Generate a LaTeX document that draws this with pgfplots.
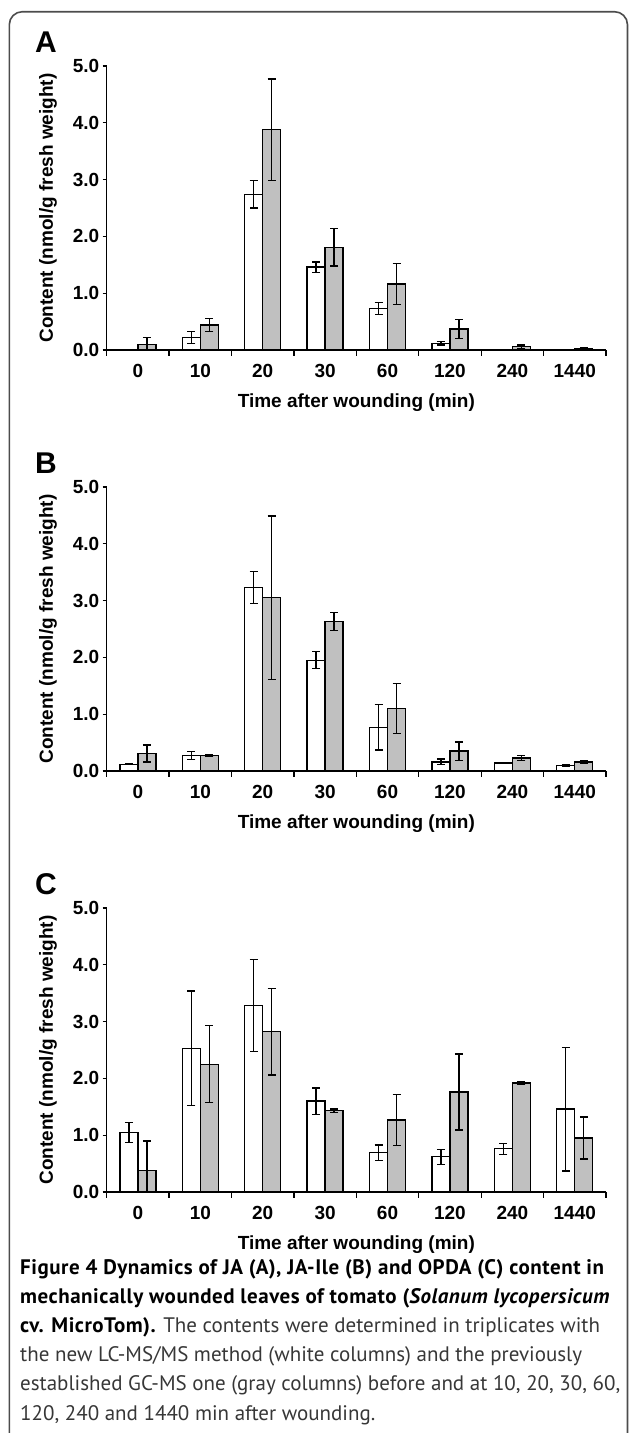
\documentclass[border=0pt]{standalone}
\usepackage{fontspec}
\setmainfont{Liberation Sans}
\newfontfamily\capfont{PT Sans}[BoldFeatures={LetterSpace=2.5}, BoldItalicFeatures={LetterSpace=2.5}]
\usepackage{pgfplots}
\pgfplotsset{compat=1.18}
\definecolor{barGray}{RGB}{192,192,192}
\definecolor{capText}{RGB}{55,55,55}

\pgfplotsset{
  woundaxis/.style={
    scale only axis, width=499.3pt, height=284pt,
    anchor=south west,
    xmin=-0.5, xmax=7.5, ymin=0, ymax=5,
    axis x line*=bottom, axis y line*=left,
    axis line style={-, line width=1.3pt, black},
    ybar=0pt, bar width=18pt,
    xtick={0,...,7}, xticklabels={0,10,20,30,60,120,240,1440},
    minor xtick={-0.5,0.5,...,7.5},
    major x tick style={draw=none},
    ytick={0,...,5},
    tick align=outside,
    major tick length=4pt, minor tick length=5.7pt,
    tick style={line width=1.3pt, black},
    /pgf/number format/assume math mode=true,
    yticklabel style={/pgf/number format/.cd, fixed, fixed zerofill, precision=1},
    xticklabel style={yshift=-7pt},
    ticklabel style={font=\fontsize{19}{22}\selectfont\bfseries},
    every axis y label/.style={at={(axis description cs:-0.1176,0.5)}, rotate=90, anchor=center,
      font=\fontsize{19}{22}\selectfont\bfseries},
    every axis x label/.style={at={(axis description cs:0.5,-0.185)}, anchor=center,
      font=\fontsize{19}{22}\selectfont\bfseries},
    xlabel={Time after wounding (min)},
    ylabel={Content (nmol/g fresh weight)},
    every axis plot/.append style={draw=black, line width=1.3pt},
    error bars/y dir=both, error bars/y explicit,
    error bars/error bar style={line width=1.3pt, black},
    error bars/error mark options={rotate=90, mark size=4pt, line width=1.3pt, black},
  }
}

\begin{document}
\begin{tikzpicture}[x=1pt, y=1pt]
  \useasboundingbox (0,0) rectangle (629,-1433);
  \clip (0,0) rectangle (629,-1433);
  \draw[rounded corners=13pt, line width=1.6pt, black!70] (9.3,-11.7) rectangle (627.5,-1470);

  % A: JA
  \node[font=\fontsize{30}{32}\selectfont\bfseries] at (46,-42) {A};
  \begin{axis}[woundaxis, at={(106.7pt,-350pt)}]
    \addplot[fill=white] coordinates {
      (1,0.22) +- (0,0.10) (2,2.74) +- (0,0.24) (3,1.46) +- (0,0.09)
      (4,0.73) +- (0,0.11) (5,0.12) +- (0,0.03)};
    \addplot[fill=barGray] coordinates {
      (0,0.10) += (0,0.12) -= (0,0.10) (1,0.44) +- (0,0.12) (2,3.88) +- (0,0.89)
      (3,1.81) +- (0,0.33) (4,1.16) +- (0,0.36) (5,0.37) +- (0,0.17)
      (6,0.06) +- (0,0.03) (7,0.03) +- (0,0.02)};
  \end{axis}

  % B: JA-Ile
  \node[font=\fontsize{30}{32}\selectfont\bfseries] at (46,-463) {B};
  \begin{axis}[woundaxis, at={(106.7pt,-771pt)}]
    \addplot[fill=white] coordinates {
      (0,0.12) +- (0,0.01) (1,0.27) +- (0,0.07) (2,3.23) +- (0,0.28)
      (3,1.95) +- (0,0.15) (4,0.77) +- (0,0.40) (5,0.16) +- (0,0.05)
      (6,0.14) +- (0,0.01) (7,0.10) +- (0,0.02)};
    \addplot[fill=barGray] coordinates {
      (0,0.31) +- (0,0.15) (1,0.27) +- (0,0.02) (2,3.05) +- (0,1.44)
      (3,2.63) +- (0,0.16) (4,1.10) +- (0,0.44) (5,0.35) +- (0,0.16)
      (6,0.23) +- (0,0.04) (7,0.16) +- (0,0.02)};
  \end{axis}

  % C: OPDA
  \node[font=\fontsize{30}{32}\selectfont\bfseries] at (46,-884) {C};
  \begin{axis}[woundaxis, at={(106.7pt,-1192pt)}]
    \addplot[fill=white] coordinates {
      (0,1.05) +- (0,0.18) (1,2.53) +- (0,1.01) (2,3.28) +- (0,0.81)
      (3,1.60) +- (0,0.23) (4,0.69) +- (0,0.14) (5,0.62) +- (0,0.13)
      (6,0.76) +- (0,0.10) (7,1.46) +- (0,1.09)};
    \addplot[fill=barGray] coordinates {
      (0,0.38) += (0,0.52) -= (0,0.38) (1,2.25) +- (0,0.68) (2,2.82) +- (0,0.76)
      (3,1.43) +- (0,0.03) (4,1.27) +- (0,0.45) (5,1.76) +- (0,0.67)
      (6,1.92) +- (0,0.03) (7,0.95) +- (0,0.37)};
  \end{axis}

  % caption
  \begin{scope}[every node/.style={anchor=base west, inner sep=0pt, font=\capfont\fontsize{21}{25}\selectfont, text=capText}]
    \node at (20,-1274) {\textbf{\color{black}Figure 4 Dynamics of JA (A), JA-Ile (B) and OPDA (C) content in}};
    \node at (20,-1303.2) {\textbf{\color{black}mechanically wounded leaves of tomato (\textit{Solanum lycopersicum}}};
    \node at (20,-1332.4) {\textbf{\color{black}cv. MicroTom).} The contents were determined in triplicates with};
    \node at (20,-1361.6) {the new LC-MS/MS method (white columns) and the previously};
    \node at (20,-1390.8) {established GC-MS one (gray columns) before and at 10, 20, 30, 60,};
    \node at (20,-1420) {120, 240 and 1440 min after wounding.};
  \end{scope}
\end{tikzpicture}
\end{document}
